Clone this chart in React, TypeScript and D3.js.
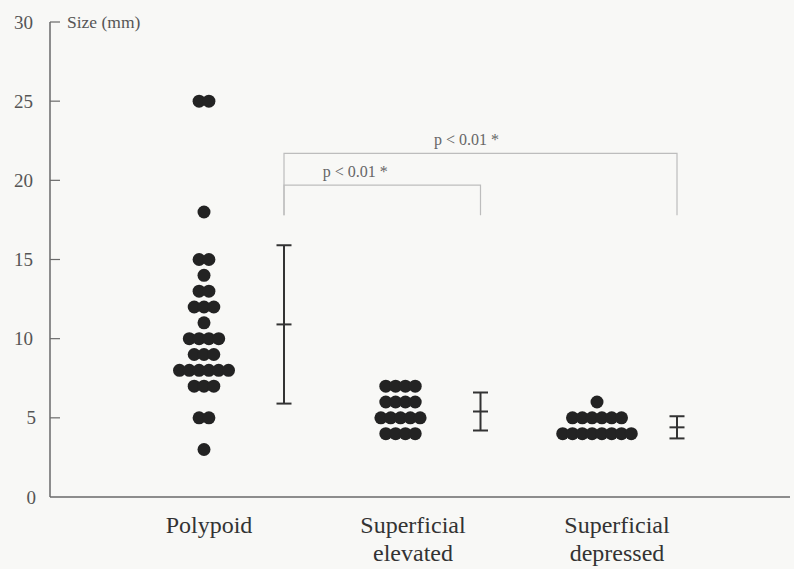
import * as d3 from 'd3'

// size (mm) -> number of lesions
const categories = ['Polypoid', 'Superficial elevated', 'Superficial depressed']
const polypoid = [
	{ size: 25, count: 2 },
	{ size: 18, count: 1 },
	{ size: 15, count: 2 },
	{ size: 14, count: 1 },
	{ size: 13, count: 2 },
	{ size: 12, count: 3 },
	{ size: 11, count: 1 },
	{ size: 10, count: 4 },
	{ size: 9, count: 3 },
	{ size: 8, count: 6 },
	{ size: 7, count: 3 },
	{ size: 5, count: 2 },
	{ size: 3, count: 1 },
]
const elevated = [
	{ size: 7, count: 4 },
	{ size: 6, count: 4 },
	{ size: 5, count: 5 },
	{ size: 4, count: 4 },
]
const depressed = [
	{ size: 6, count: 1 },
	{ size: 5, count: 6 },
	{ size: 4, count: 8 },
]
// mean ± SD
const means = [10.9, 5.4, 4.4]
const sds = [5.0, 1.2, 0.7]
const yTicks = [0, 5, 10, 15, 20, 25, 30]
const brackets = [
	{ from: 0, to: 1, top: 19.7, label: 'p < 0.01 *', dx: -27 },
	{ from: 0, to: 2, top: 21.7, label: 'p < 0.01 *', dx: -14 },
]

const width = 794
const height = 569
const marginLeft = 50
const marginTop = 22
const marginBottom = 72
const font = '"Liberation Serif"'

export default function App() {
	const groups = [polypoid, elevated, depressed]

	const y = d3
		.scaleLinear()
		.domain([0, 30])
		.range([height - marginBottom, marginTop])

	// dot columns and error bars share spacing; bars sit to the right of the dots
	const xDots = d3.scalePoint().domain(categories).range([204, 597])
	const barOffset = 80
	const xLabel = d3.scalePoint().domain(categories).range([209, 617])

	const r = 6.5
	const step = 9.8
	const cap = 7.5
	const legBottom = 17.8

	return (
		<svg
			width={width}
			height={height}
			style={{ position: 'absolute', left: 0, top: 0, display: 'block' }}
		>
			<rect width={width} height={height} fill="#f8f8f6" />

			{/* axes */}
			<line x1={marginLeft} x2={marginLeft} y1={y(30)} y2={y(0)} stroke="#6a6a6a" strokeWidth={1.5} />
			<line x1={marginLeft} x2={790} y1={y(0)} y2={y(0)} stroke="#6a6a6a" strokeWidth={1.5} />
			{yTicks.map((t) => (
				<g key={t}>
					{t > 0 && (
						<line x1={marginLeft} x2={marginLeft + 10} y1={y(t)} y2={y(t)} stroke="#6a6a6a" strokeWidth={1.2} />
					)}
					<text
						x={t < 10 ? 36 : 33}
						y={y(t)}
						dy="0.35em"
						textAnchor="end"
						style={{ fontFamily: font, fontSize: 19 }}
						fill="#555"
					>
						{t}
					</text>
				</g>
			))}
			<text x={67} y={y(30)} dy="0.35em" style={{ fontFamily: font, fontSize: 17.5 }} fill="#555">
				Size (mm)
			</text>

			{/* dots */}
			{groups.map((g, gi) =>
				g.flatMap((row) =>
					d3.range(row.count).map((i) => (
						<circle
							key={`${gi}-${row.size}-${i}`}
							cx={xDots(categories[gi])! + (i - (row.count - 1) / 2) * step}
							cy={y(row.size)}
							r={r}
							fill="#232323"
						/>
					))
				)
			)}

			{/* mean ± SD */}
			{categories.map((c, i) => {
				const bx = xDots(c)! + barOffset
				const lo = y(means[i] - sds[i])
				const hi = y(means[i] + sds[i])
				const m = y(means[i])
				return (
					<g key={c} stroke="#333" strokeWidth={2}>
						<line x1={bx} x2={bx} y1={hi} y2={lo} />
						<line x1={bx - cap} x2={bx + cap} y1={hi} y2={hi} />
						<line x1={bx - cap} x2={bx + cap} y1={m} y2={m} />
						<line x1={bx - cap} x2={bx + cap} y1={lo} y2={lo} />
					</g>
				)
			})}

			{/* significance brackets */}
			{brackets.map((b, i) => {
				const x1 = xDots(categories[b.from])! + barOffset
				const x2 = xDots(categories[b.to])! + barOffset
				return (
					<g key={i}>
						<path
							d={`M${x1},${y(legBottom)}V${y(b.top)}H${x2}V${y(legBottom)}`}
							fill="none"
							stroke="#bdbdbd"
							strokeWidth={1.2}
						/>
						<text
							x={(x1 + x2) / 2 + b.dx}
							y={y(b.top) - 8}
							textAnchor="middle"
							style={{ fontFamily: font, fontSize: 16 }}
							fill="#666"
						>
							{b.label}
						</text>
					</g>
				)
			})}

			{/* category labels */}
			{categories.map((c) => {
				const lines = c.split(' ')
				return (
					<text key={c} textAnchor="middle" style={{ fontFamily: font, fontSize: 24 }} fill="#333">
						{lines.map((l, li) => (
							<tspan key={li} x={xLabel(c)} y={533 + li * 28}>
								{l}
							</tspan>
						))}
					</text>
				)
			})}
		</svg>
	)
}
